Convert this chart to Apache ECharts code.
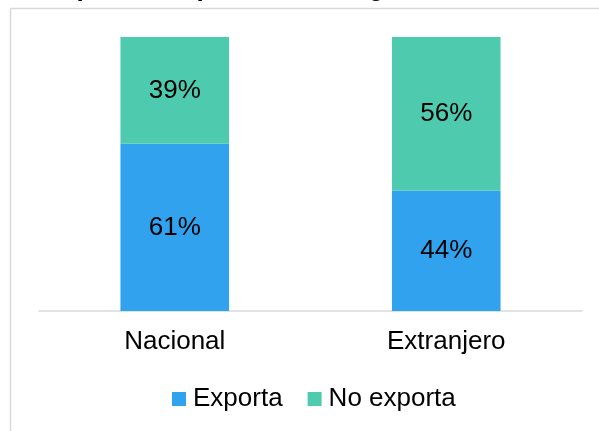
<!DOCTYPE html>
<html>
<head>
<meta charset="utf-8">
<script src="https://cdn.jsdelivr.net/npm/echarts@6/dist/echarts.min.js"></script>
<style>
  html, body { margin: 0; padding: 0; background: #fff; }
  #chart { width: 599px; height: 431px; }
</style>
</head>
<body>
<div id="chart"></div>
<script>
const titleText = "Empresas exportadoras según tamaño";
const categories = ["Nacional", "Extranjero"];
const exporta = [61, 44];
const noExporta = [39, 56];

const chart = echarts.init(document.getElementById("chart"), null, { renderer: "canvas" });

const font = "Arial, 'Liberation Sans', sans-serif";

const labelStyle = {
  show: true,
  position: "inside",
  formatter: (p) => p.value + "%",
  color: "#000",
  fontSize: 26,
  fontFamily: font,
};

const option = {
  animation: false,
  title: {
    text: titleText,
    left: 31,
    top: -29,
    textStyle: { fontSize: 26, fontWeight: "bold", color: "#000", fontFamily: font },
  },
  graphic: [
    {
      type: "rect",
      shape: { x: 10.5, y: 8.5, width: 700, height: 500 },
      style: { fill: "none", stroke: "#d9d9d9", lineWidth: 1.5 },
      silent: true,
    },
  ],
  legend: {
    data: ["Exporta", "No exporta"],
    left: 167,
    top: 381,
    icon: "rect",
    itemWidth: 14,
    itemHeight: 14,
    itemGap: 25,
    textStyle: { fontSize: 26, color: "#000", fontFamily: font, padding: [0, 0, 0, 2] },
  },
  grid: {
    left: 39,
    right: 17,
    top: 37,
    bottom: 120,
    containLabel: false,
  },
  xAxis: {
    type: "category",
    data: categories,
    axisLine: { lineStyle: { color: "#d9d9d9", width: 1.5 } },
    axisTick: { show: false },
    axisLabel: { color: "#000", fontSize: 26, fontFamily: font, margin: 18 },
  },
  yAxis: {
    type: "value",
    min: 0,
    max: 100,
    show: false,
    splitLine: { show: false },
  },
  series: [
    {
      name: "Exporta",
      type: "bar",
      stack: "total",
      barWidth: "40%",
      data: exporta,
      itemStyle: { color: "#31a3ee" },
      label: labelStyle,
    },
    {
      name: "No exporta",
      type: "bar",
      stack: "total",
      barWidth: "40%",
      data: noExporta,
      itemStyle: { color: "#4ecbaf" },
      label: labelStyle,
    },
  ],
};

chart.setOption(option);
</script>
</body>
</html>
